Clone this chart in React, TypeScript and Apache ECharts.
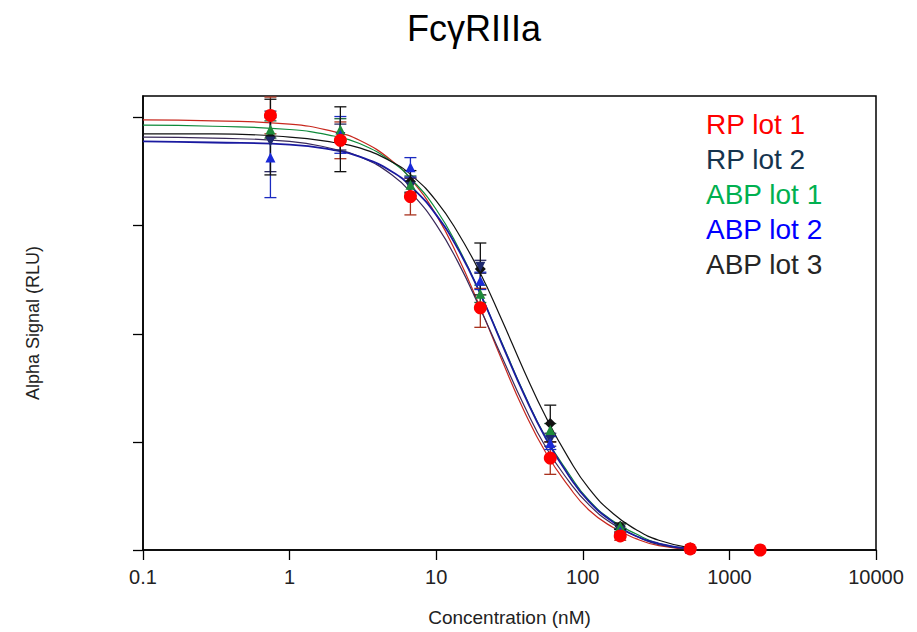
import React, { useEffect, useRef } from "react";
import * as echarts from "echarts";

// Measured concentrations (nM)
const concentrations = [0.74, 2.22, 6.67, 20, 60, 180, 540, 1620];

// Mean signals (arbitrary RLU units) and error bars
const rpLot1 = [4.02, 3.79, 3.27, 2.24, 0.85, 0.13, 0.01, 0.0];
const rpLot1Err = [0.17, 0.17, 0.17, 0.18, 0.15, 0.04, 0.01, 0.01];
const rpLot2 = [3.78, 3.82, 3.36, 2.62, 1.02, 0.18, 0.01];
const rpLot2Err = [0.28, 0.12, 0.08, 0.06, 0.06, 0.02, 0.01];
const abpLot1 = [3.89, 3.89, 3.38, 2.37, 1.11, 0.22, 0.01];
const abpLot1Err = [0.08, 0.1, 0.08, 0.08, 0.06, 0.02, 0.01];
const abpLot2 = [3.63, 3.84, 3.54, 2.49, 0.99, 0.17, 0.01];
const abpLot2Err = [0.37, 0.17, 0.09, 0.08, 0.06, 0.02, 0.01];
const abpLot3 = [3.82, 3.8, 3.41, 2.6, 1.17, 0.22, 0.02];
const abpLot3Err = [0.35, 0.3, 0.1, 0.24, 0.17, 0.03, 0.01];

// Fitted curves
const fitX = [0.1, 0.3, 1, 2, 3, 5, 7, 10, 14, 20, 28, 40, 56, 80, 110, 160, 230, 330, 540];
const fitRp1 = [3.98, 3.97, 3.94, 3.87, 3.79, 3.6, 3.4, 3.1, 2.72, 2.24, 1.76, 1.28, 0.9, 0.59, 0.37, 0.21, 0.105, 0.04, 0.01];
const fitRp2 = [3.82, 3.81, 3.78, 3.71, 3.64, 3.47, 3.28, 3.01, 2.67, 2.23, 1.79, 1.33, 0.95, 0.64, 0.42, 0.24, 0.13, 0.05, 0.01];
const fitAbp1 = [3.93, 3.92, 3.89, 3.83, 3.76, 3.59, 3.41, 3.15, 2.81, 2.37, 1.92, 1.44, 1.04, 0.71, 0.46, 0.27, 0.15, 0.06, 0.01];
const fitAbp2 = [3.78, 3.77, 3.75, 3.7, 3.64, 3.5, 3.34, 3.1, 2.79, 2.37, 1.91, 1.43, 1.03, 0.69, 0.45, 0.26, 0.13, 0.06, 0.01];
const fitAbp3 = [3.85, 3.85, 3.82, 3.77, 3.72, 3.59, 3.45, 3.23, 2.94, 2.56, 2.13, 1.65, 1.23, 0.85, 0.57, 0.34, 0.19, 0.09, 0.02];

const xTickLabels = ["0.1", "1", "10", "100", "1000", "10000"];
const yTicks = [0, 1, 2, 3, 4];

const seriesNames = ["RP lot 1", "RP lot 2", "ABP lot 1", "ABP lot 2", "ABP lot 3"];
const legendColors = ["#ff0000", "#15344e", "#00b050", "#0000ff", "#262626"];

const lots = [
  { name: seriesNames[0], values: rpLot1, err: rpLot1Err, fit: fitRp1, marker: "#ff0000", line: "#c8281e", errColor: "#a8321e", symbol: "circle", size: 13, rotate: 0, lw: 1.2 },
  { name: seriesNames[1], values: rpLot2, err: rpLot2Err, fit: fitRp2, marker: "#1f2a6e", line: "#3a2a5a", errColor: "#2a2a60", symbol: "triangle", size: 10, rotate: 180, lw: 1.2 },
  { name: seriesNames[2], values: abpLot1, err: abpLot1Err, fit: fitAbp1, marker: "#1d8a3a", line: "#0e8a3a", errColor: "#1d6a3a", symbol: "triangle", size: 10, rotate: 0, lw: 1.2 },
  { name: seriesNames[3], values: abpLot2, err: abpLot2Err, fit: fitAbp2, marker: "#1a2ad8", line: "#1a1aa0", errColor: "#1a2ac0", symbol: "triangle", size: 10, rotate: 0, lw: 1.8 },
  { name: seriesNames[4], values: abpLot3, err: abpLot3Err, fit: fitAbp3, marker: "#111111", line: "#111111", errColor: "#111111", symbol: "diamond", size: 11, rotate: 0, lw: 1.2 },
];

const axisFont = "'Liberation Sans', Arial, sans-serif";
const mainFont = "'Liberation Sans', Arial, sans-serif";

export default function App() {
  const ref = useRef<HTMLDivElement>(null);

  useEffect(() => {
    if (!ref.current) return;
    const chart = echarts.init(ref.current, undefined, { renderer: "svg" });

    const lineSeries = lots.map((lot) => ({
      type: "line",
      name: lot.name + " fit",
      data: fitX.map((x, i) => [x, lot.fit[i]]),
      smooth: true,
      showSymbol: false,
      symbol: "none",
      lineStyle: { color: lot.line, width: lot.lw },
      z: 2,
      silent: true,
    }));

    const errorSeries = lots.map((lot) => ({
      type: "custom",
      name: lot.name + " error",
      data: lot.values.map((v, i) => [concentrations[i], v, lot.err[i]]),
      z: 3,
      silent: true,
      renderItem: (params: any, api: any) => {
        const x = api.value(0);
        const y = api.value(1);
        const e = api.value(2);
        const top = api.coord([x, y + e]);
        const bot = api.coord([x, Math.max(0, y - e)]);
        const hw = 6;
        const style = { stroke: lot.errColor, lineWidth: 1.3 };
        return {
          type: "group",
          children: [
            { type: "line", shape: { x1: top[0], y1: top[1], x2: bot[0], y2: bot[1] }, style },
            { type: "line", shape: { x1: top[0] - hw, y1: top[1], x2: top[0] + hw, y2: top[1] }, style },
            { type: "line", shape: { x1: bot[0] - hw, y1: bot[1], x2: bot[0] + hw, y2: bot[1] }, style },
          ],
        };
      },
    }));

    const drawOrder = [4, 1, 2, 3, 0];
    const scatterSeries = drawOrder.map((k) => {
      const lot = lots[k];
      return {
        type: "scatter",
        name: lot.name,
        data: lot.values.map((v, i) => [concentrations[i], v]),
        symbol: lot.symbol,
        symbolSize: lot.size,
        symbolRotate: lot.rotate,
        itemStyle: { color: lot.marker, opacity: 1 },
        z: 4,
      };
    });

    const option: any = {
      animation: false,
      backgroundColor: "#ffffff",
      grid: {
        left: 143,
        right: 41,
        top: 96,
        bottom: 80,
        show: true,
        borderColor: "#000000",
        borderWidth: 1.5,
        backgroundColor: "transparent",
        containLabel: false,
      },
      xAxis: {
        type: "log",
        logBase: 10,
        min: 0.1,
        max: 10000,
        name: "Concentration (nM)",
        nameLocation: "middle",
        nameGap: 58,
        nameTextStyle: { fontFamily: axisFont, fontSize: 19, color: "#222222" },
        axisLine: { show: true, onZero: false, lineStyle: { color: "#000000", width: 1.5 } },
        axisTick: { show: true, inside: false, length: 10, lineStyle: { color: "#000000", width: 1.3 } },
        minorTick: { show: false },
        splitLine: { show: false },
        axisLabel: {
          margin: 17,
          fontFamily: axisFont,
          fontSize: 20,
          color: "#222222",
          formatter: (v: number) => {
            const found = xTickLabels.find((t) => Math.abs(Math.log10(parseFloat(t)) - Math.log10(v)) < 1e-6);
            return found ?? "";
          },
        },
      },
      yAxis: {
        type: "value",
        min: 0,
        max: 4.2,
        interval: 1,
        name: "Alpha Signal (RLU)",
        nameLocation: "middle",
        nameGap: 101,
        nameRotate: 90,
        nameTextStyle: { fontFamily: axisFont, fontSize: 18, color: "#222222" },
        axisLine: { show: true, onZero: false, lineStyle: { color: "#000000", width: 1.5 } },
        axisTick: { show: true, inside: false, length: 10, customValues: yTicks, lineStyle: { color: "#000000", width: 1.3 } },
        axisLabel: { show: false, customValues: yTicks },
        splitLine: { show: false },
      },
      graphic: [
        {
          type: "text",
          x: 474,
          y: 28,
          silent: true,
          style: {
            text: "FcγRIIIa",
            fill: "#000000",
            fontFamily: mainFont,
            fontSize: 36,
            align: "center",
            verticalAlign: "middle",
          },
        },
        ...seriesNames.map((n, i) => ({
          type: "text",
          x: 706,
          y: 124 + i * 35.2,
          silent: true,
          style: {
            text: n,
            fill: legendColors[i],
            fontFamily: mainFont,
            fontSize: 28,
            align: "left",
            verticalAlign: "middle",
          },
        })),
      ],
      series: [...lineSeries, ...errorSeries, ...scatterSeries],
    };

    chart.setOption(option);
    return () => chart.dispose();
  }, []);

  return (
    <div
      ref={ref}
      style={{ position: "fixed", left: 0, top: 0, width: 917, height: 632, background: "#fff" }}
    />
  );
}
